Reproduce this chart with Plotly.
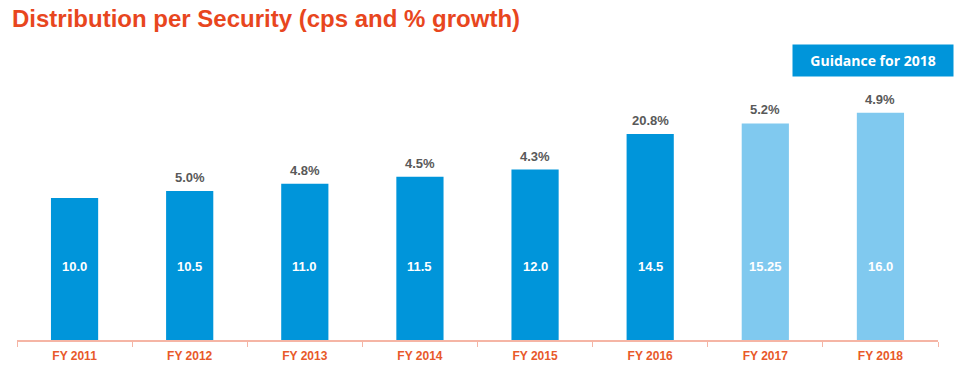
import plotly.graph_objects as go

categories = ["FY 2011", "FY 2012", "FY 2013", "FY 2014", "FY 2015", "FY 2016", "FY 2017", "FY 2018"]
values = [10.0, 10.5, 11.0, 11.5, 12.0, 14.5, 15.25, 16.0]
value_labels = ["10.0", "10.5", "11.0", "11.5", "12.0", "14.5", "15.25", "16.0"]
growth_labels = ["", "5.0%", "4.8%", "4.5%", "4.3%", "20.8%", "5.2%", "4.9%"]
is_guidance = [False, False, False, False, False, False, True, True]

DARK = "#0095DA"
LIGHT = "#80C9EF"
ORANGE = "#E8461E"

colors = [LIGHT if g else DARK for g in is_guidance]

fig = go.Figure()
fig.add_trace(go.Bar(
    x=categories, y=values, marker=dict(color=colors, line=dict(width=0)),
    width=0.41, hoverinfo="skip", showlegend=False,
))

annotations = []
for c, v, lbl, g in zip(categories, values, value_labels, growth_labels):
    annotations.append(dict(x=c, y=5.15, text=f"<b>{lbl}</b>", showarrow=False,
                            font=dict(family="Liberation Sans, Arial", size=13, color="white"),
                            xanchor="center", yanchor="middle"))
    if g:
        annotations.append(dict(x=c, y=v, text=f"<b>{g}</b>", showarrow=False,
                                font=dict(family="Liberation Sans, Arial", size=13, color="#595959"),
                                xanchor="center", yanchor="bottom", yshift=4))

annotations.append(dict(xref="paper", yref="paper", x=(873 - 17) / 921, y=1.0,
                        text="<b>Guidance for 2018</b>", showarrow=False,
                        font=dict(family="Open Sans, Lato", size=14, color="white"),
                        bgcolor=DARK, borderpad=0, width=160, height=31,
                        xanchor="center", yanchor="top"))

fig.update_layout(
    width=975, height=375,
    margin=dict(l=17, r=37, t=44, b=35),
    paper_bgcolor="white", plot_bgcolor="white",
    title=dict(text="<b>Distribution per Security (cps and % growth)</b>",
               x=12 / 975, xanchor="left", y=1 - 19 / 375, yanchor="middle",
               font=dict(family="Liberation Sans, Arial", size=24, color=ORANGE)),
    annotations=annotations,
    bargap=0.59,
)
fig.update_xaxes(showline=True, linecolor="#F5B5A5", linewidth=2,
                 ticks="outside", tickson="boundaries", ticklen=5, tickcolor="#F5B5A5",
                 tickfont=dict(family="Liberation Sans, Arial", size=12, color="#E8592A"),
                 ticklabelstandoff=4,
                 tickprefix="<b>", ticksuffix="</b>", showgrid=False)
fig.update_yaxes(range=[0, 296 / 14.2], visible=False, showgrid=False)

fig.write_html("out.html", config={"displayModeBar": False},
               post_script="document.body.style.margin='0px';")
